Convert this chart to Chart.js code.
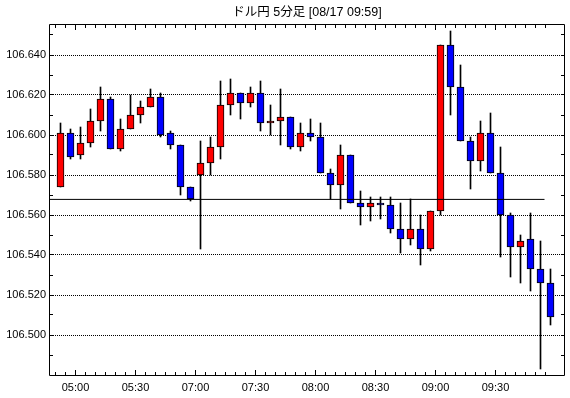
<!DOCTYPE html>
<html>
<head>
<meta charset="utf-8">
<script src="https://cdn.jsdelivr.net/npm/chart.js@4.4.0/dist/chart.umd.min.js"></script>
<style>
  body { margin: 0; background: #fff; }
  canvas { display: block; }
</style>
</head>
<body>
<canvas id="chart" width="570" height="398"></canvas>
<script>
// 5 minute candles, one entry per bar
const times = [
  '04:50', '04:55', '05:00', '05:05', '05:10', '05:15', '05:20', '05:25', '05:30', '05:35',
  '05:40', '05:45', '05:50', '05:55', '07:00', '07:05', '07:10', '07:15', '07:20', '07:25',
  '07:30', '07:35', '07:40', '07:45', '07:50', '07:55', '08:00', '08:05', '08:10', '08:15',
  '08:20', '08:25', '08:30', '08:35', '08:40', '08:45', '08:50', '08:55', '09:00', '09:05',
  '09:10', '09:15', '09:20', '09:25', '09:30', '09:35', '09:40', '09:45', '09:50', '09:55'
];
const open = [
  106.574, 106.601, 106.590, 106.596, 106.607, 106.618, 106.593, 106.603, 106.610, 106.614,
  106.619, 106.601, 106.595, 106.574, 106.580, 106.586, 106.594, 106.615, 106.621, 106.616,
  106.621, 106.606, 106.607, 106.609, 106.594, 106.601, 106.599, 106.581, 106.575, 106.590,
  106.566, 106.564, 106.566, 106.565, 106.553, 106.548, 106.553, 106.543, 106.562, 106.645,
  106.624, 106.597, 106.587, 106.601, 106.581, 106.560, 106.544, 106.548, 106.533, 106.526
];
const high = [
  106.606, 106.603, 106.604, 106.613, 106.624, 106.619, 106.608, 106.620, 106.617, 106.623,
  106.621, 106.602, 106.595, 106.574, 106.597, 106.599, 106.627, 106.628, 106.621, 106.624,
  106.627, 106.615, 106.623, 106.609, 106.606, 106.608, 106.606, 106.583, 106.595, 106.590,
  106.572, 106.569, 106.569, 106.569, 106.566, 106.568, 106.560, 106.562, 106.645, 106.652,
  106.635, 106.599, 106.607, 106.611, 106.594, 106.561, 106.550, 106.561, 106.547, 106.533
];
const low = [
  106.574, 106.588, 106.588, 106.594, 106.602, 106.593, 106.592, 106.603, 106.606, 106.614,
  106.599, 106.593, 106.570, 106.567, 106.543, 106.580, 106.588, 106.610, 106.608, 106.614,
  106.602, 106.600, 106.595, 106.593, 106.592, 106.597, 106.581, 106.568, 106.563, 106.566,
  106.555, 106.557, 106.558, 106.551, 106.541, 106.545, 106.535, 106.542, 106.560, 106.610,
  106.597, 106.573, 106.582, 106.581, 106.539, 106.529, 106.526, 106.522, 106.483, 106.505
];
const close = [
  106.601, 106.589, 106.596, 106.607, 106.618, 106.593, 106.603, 106.610, 106.614, 106.619,
  106.600, 106.595, 106.574, 106.568, 106.586, 106.594, 106.615, 106.621, 106.616, 106.621,
  106.606, 106.607, 106.609, 106.594, 106.601, 106.599, 106.581, 106.575, 106.590, 106.566,
  106.564, 106.566, 106.565, 106.553, 106.548, 106.553, 106.543, 106.562, 106.645, 106.624,
  106.597, 106.587, 106.601, 106.581, 106.560, 106.544, 106.547, 106.533, 106.526, 106.509
];
const priceLabels = [106.500, 106.520, 106.540, 106.560, 106.580, 106.600, 106.620, 106.640];
const refLevel = 106.5678;
const refEnd = 48.4;

const font = "'Liberation Sans', 'Noto Sans CJK JP', sans-serif";
const isMajor = t => /:(00|30)$/.test(t);

// box + little inward tick marks on all four sides
const framePlugin = {
  id: 'frame',
  afterDraw(chart) {
    const {ctx, chartArea: a, scales: {x, y}} = chart;
    ctx.save();
    ctx.strokeStyle = '#000';
    ctx.lineWidth = 1;
    ctx.beginPath();
    ctx.rect(a.left + 0.5, a.top - 0.5, a.right - a.left - 1, a.bottom - a.top + 1);
    times.forEach((t, i) => {
      const px = Math.round(x.getPixelForValue(i - 0.5) - 0.5) + 0.5;
      const len = isMajor(t) ? 5 : 3;
      ctx.moveTo(px, a.bottom); ctx.lineTo(px, a.bottom - len);
      ctx.moveTo(px, a.top); ctx.lineTo(px, a.top + len);
    });
    for (let k = Math.ceil(y.min * 100 + 0.01); k <= Math.floor(y.max * 100); k++) {
      const py = Math.round(y.getPixelForValue(k / 100) - 0.5) + 0.5;
      ctx.moveTo(a.left, py); ctx.lineTo(a.left + 4, py);
      ctx.moveTo(a.right, py); ctx.lineTo(a.right - 4, py);
    }
    ctx.stroke();
    ctx.restore();
  }
};

new Chart(document.getElementById('chart'), {
  type: 'bar',
  plugins: [framePlugin],
  data: {
    datasets: [
      {
        type: 'line',
        data: [{x: -1.15, y: refLevel}, {x: refEnd, y: refLevel}],
        borderColor: '#000',
        borderWidth: 1,
        pointRadius: 0,
        order: 0
      },
      {
        data: open.map((o, i) => ({x: i, y: [o, close[i]]})),
        backgroundColor: c => close[c.dataIndex] >= open[c.dataIndex] ? '#ff0000' : '#0000ff',
        borderColor: '#000',
        borderWidth: 1,
        borderSkipped: false,
        barThickness: 7,
        grouped: false,
        order: 1
      },
      {
        data: low.map((l, i) => ({x: i, y: [l, high[i]]})),
        backgroundColor: '#000',
        borderWidth: 0,
        barThickness: 1,
        grouped: false,
        order: 2
      }
    ]
  },
  options: {
    responsive: false,
    animation: false,
    layout: { padding: { left: 0, right: 5, top: 0, bottom: 0 } },
    plugins: {
      legend: { display: false },
      tooltip: { enabled: false },
      title: {
        display: true,
        fullSize: false,
        text: 'ドル円 5分足 [08/17 09:59]',
        color: '#000',
        font: { family: font, size: 12.5, weight: 'normal' },
        padding: { top: 5, bottom: 5 }
      }
    },
    scales: {
      x: {
        type: 'linear',
        offset: false,
        min: -1.15,
        max: 50.45,
        afterFit: s => { s.height = 23; },
        afterBuildTicks: s => {
          s.ticks = times.map((t, i) => ({value: i - 0.5})).filter((t, i) => isMajor(times[i]));
        },
        ticks: {
          color: '#000',
          font: { family: font, size: 11 },
          padding: -2,
          maxRotation: 0,
          autoSkip: false,
          callback: v => times[Math.round(v + 0.5)]
        },
        grid: { display: false },
        border: { display: false }
      },
      y: {
        min: 106.480,
        max: 106.655,
        afterFit: s => { s.width = 49; },
        afterBuildTicks: s => { s.ticks = priceLabels.map(v => ({value: v})); },
        ticks: {
          color: '#000',
          font: { family: font, size: 11 },
          padding: 3,
          callback: v => v.toFixed(3)
        },
        grid: { color: '#000', lineWidth: 1, drawTicks: false },
        border: { display: false, dash: [1, 1] }
      }
    }
  }
});
</script>
</body>
</html>
